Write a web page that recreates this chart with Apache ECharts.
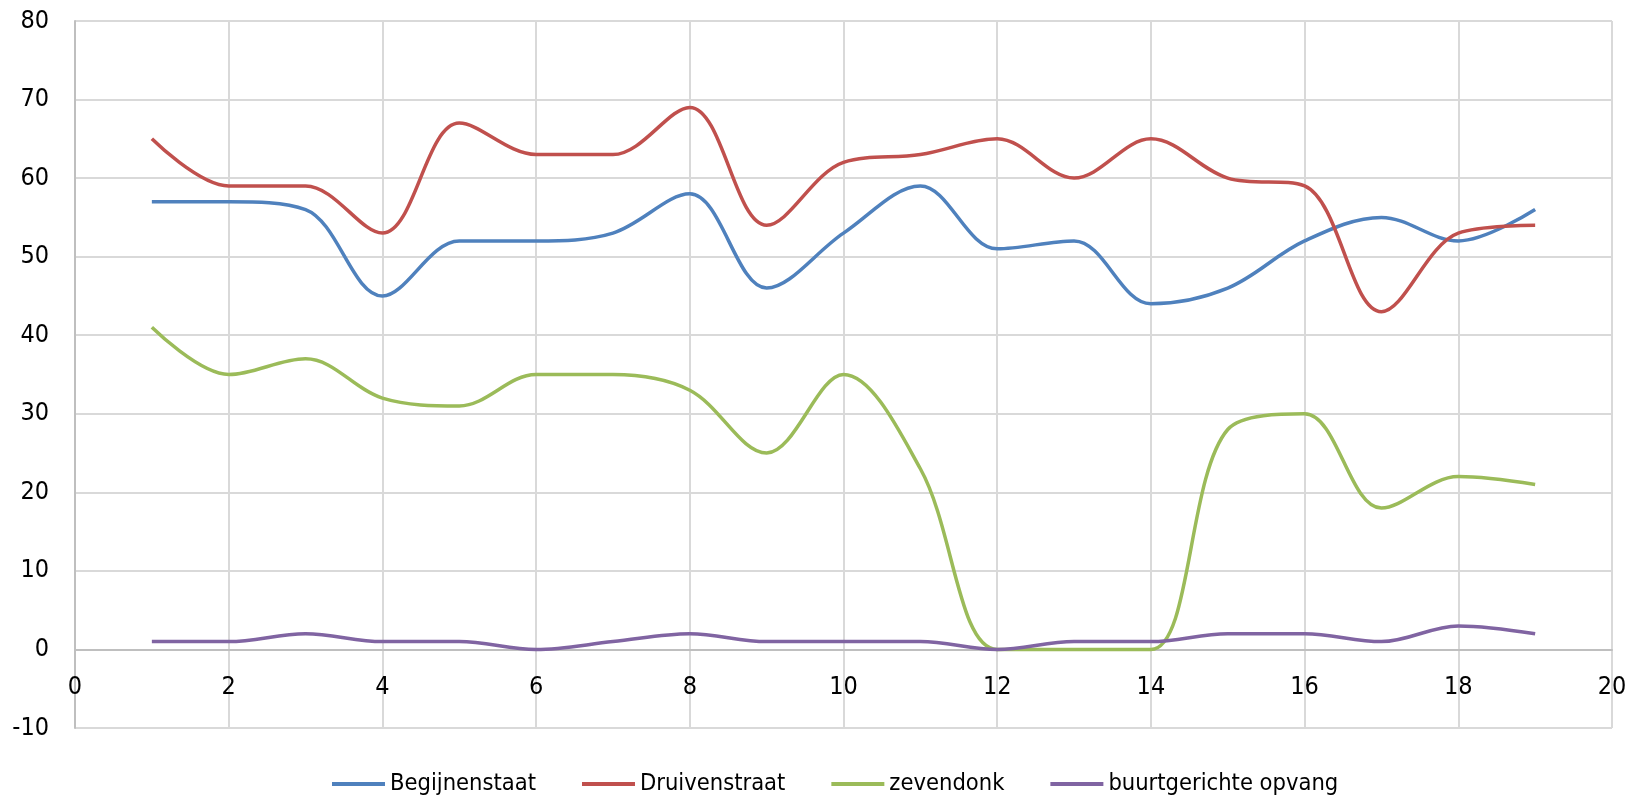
<!DOCTYPE html>
<html><head><meta charset="utf-8">
<script src="https://cdn.jsdelivr.net/npm/echarts@6/dist/echarts.min.js"></script>
<style>html,body{margin:0;padding:0;background:#fff}#c{width:1633px;height:797px}</style>
</head><body><div id="c"></div>
<script>
const xValues = [1,2,3,4,5,6,7,8,9,10,11,12,13,14,15,16,17,18,19];
const seriesNames = ['Begijnenstaat','Druivenstraat','zevendonk','buurtgerichte opvang'];
const begijnenstaat = [57,57,56,45,52,52,53,58,46,53,59,51,52,44,46,52,55,52,56];
const druivenstraat = [65,59,59,53,67,63,63,69,54,62,63,65,60,65,60,59,43,53,54];
const zevendonk = [41,35,37,32,31,35,35,33,25,35,23,0,0,0,28,30,18,22,21];
const buurtgerichteOpvang = [1,1,2,1,1,0,1,2,1,1,1,0,1,1,2,2,1,3,2];
const colors = ['#4F81BD','#C0504D','#9BBB59','#8064A2'];
const allData = [begijnenstaat, druivenstraat, zevendonk, buurtgerichteOpvang];
const font = "'Liberation Sans Narrow','DejaVu Sans Condensed','Noto Sans',sans-serif";
const H = 797, gridTop = 21, gridBottom = 69;
const yMin = -10, yMax = 80;
// move the horizontal axis up so it crosses the vertical axis at 0
const zeroOffset = -(H - gridTop - gridBottom) * (0 - yMin) / (yMax - yMin);
const chart = echarts.init(document.getElementById('c'));
chart.setOption({
  animation:false,
  textStyle:{fontFamily:font},
  grid:{left:75,right:21,top:gridTop,bottom:gridBottom},
  legend:{top:767,left:327,itemWidth:53,itemHeight:4,itemGap:46,icon:'rect',
    textStyle:{fontSize:23.5,color:'#000',fontFamily:font},
    data:seriesNames},
  xAxis:{type:'value',min:0,max:20,interval:2,position:'bottom',offset:zeroOffset,
    axisLine:{onZero:false,lineStyle:{color:'#BFBFBF',width:2}},
    axisTick:{show:false},
    axisLabel:{fontSize:25,color:'#000',margin:26,fontFamily:font},
    splitLine:{show:true,lineStyle:{color:'#D9D9D9',width:2}}},
  yAxis:{type:'value',min:yMin,max:yMax,interval:10,
    axisLine:{show:true,onZero:false,lineStyle:{color:'#BFBFBF',width:2}},
    axisTick:{show:false},
    axisLabel:{fontSize:25,color:'#000',margin:26,fontFamily:font},
    splitLine:{show:true,lineStyle:{color:'#D9D9D9',width:2}}},
  series: seriesNames.map((n,i)=>({
    name:n,type:'line',smooth:0.35,showSymbol:false,symbol:'none',
    color:colors[i],
    lineStyle:{width:3.5,color:colors[i]},
    data:xValues.map((x,j)=>[x,allData[i][j]])
  }))
});
</script></body></html>
